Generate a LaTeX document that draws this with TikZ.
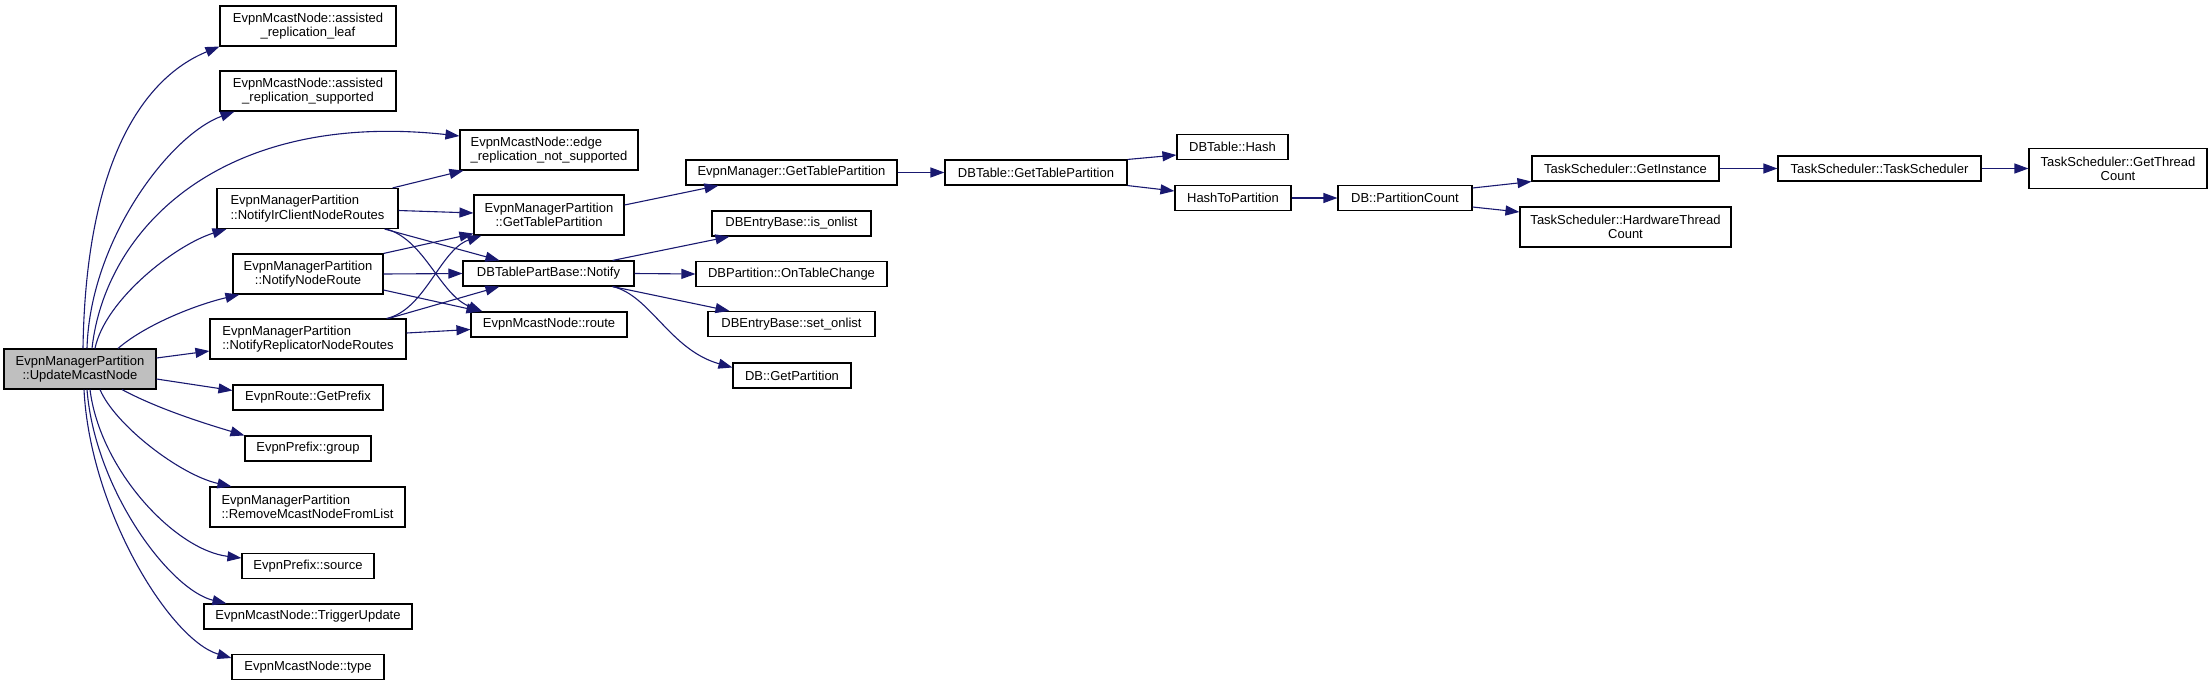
\documentclass[tikz,border=0pt]{standalone}
\usepackage{fontspec}
\setmainfont{Liberation Sans}
\usetikzlibrary{arrows.meta}
\definecolor{callblue}{HTML}{191970}
\definecolor{rootgray}{HTML}{BFBFBF}

\begin{document}
\begin{tikzpicture}[x=1pt,y=-1pt,
	every node/.style={draw=black,line width=1.1pt,inner sep=0pt,minimum height=25pt,font=\fontsize{13}{14.3}\selectfont,align=center},
	two/.style={minimum height=40pt},
	calls/.style={draw=callblue,line width=1.1pt,-{Triangle[length=14pt,width=10pt]}}
	]
	\useasboundingbox (0,0) rectangle (2212,686);
	\node[two,fill=rootgray,minimum width=152pt] (umn) at (80,369) {EvpnManagerPartition\\::UpdateMcastNode};
	\node[two,minimum width=176pt] (arl) at (308,26) {EvpnMcastNode::assisted\\\_replication\_leaf};
	\node[two,minimum width=176pt] (ars) at (308,91) {EvpnMcastNode::assisted\\\_replication\_supported};
	\node[two,align=left,minimum width=178pt] (ern) at (549,150) {EvpnMcastNode::edge\\\_replication\_not\_supported};
	\node[two,align=left,minimum width=181pt] (nic) at (307.5,208.5) {EvpnManagerPartition\\::NotifyIrClientNodeRoutes};
	\node[two,minimum width=150pt] (gtp) at (549,215) {EvpnManagerPartition\\::GetTablePartition};
	\node[two,minimum width=150pt] (nnr) at (308,274) {EvpnManagerPartition\\::NotifyNodeRoute};
	\node[minimum width=171pt] (dtn) at (548.5,273.5) {DBTablePartBase::Notify};
	\node[minimum width=156pt] (rte) at (549,324.5) {EvpnMcastNode::route};
	\node[two,align=left,minimum width=196pt] (nrr) at (308,339) {EvpnManagerPartition\\::NotifyReplicatorNodeRoutes};
	\node[minimum width=150pt] (gpf) at (308,397.5) {EvpnRoute::GetPrefix};
	\node[minimum width=126pt] (grp) at (308,448.5) {EvpnPrefix::group};
	\node[two,align=left,minimum width=195pt] (rml) at (307.5,507) {EvpnManagerPartition\\::RemoveMcastNodeFromList};
	\node[minimum width=132pt] (src) at (308,566) {EvpnPrefix::source};
	\node[minimum width=208pt] (tup) at (308,616.5) {EvpnMcastNode::TriggerUpdate};
	\node[minimum width=152pt] (typ) at (308,667) {EvpnMcastNode::type};
	\node[minimum width=211pt] (emg) at (791.5,172.5) {EvpnManager::GetTablePartition};
	\node[minimum width=182pt] (dgt) at (1036,172.5) {DBTable::GetTablePartition};
	\node[minimum width=159pt] (iso) at (791.5,223.5) {DBEntryBase::is\_onlist};
	\node[minimum width=191pt] (otc) at (791.5,274) {DBPartition::OnTableChange};
	\node[minimum width=167pt] (sol) at (791.5,324) {DBEntryBase::set\_onlist};
	\node[minimum width=118pt] (dgp) at (792,375.5) {DB::GetPartition};
	\node[minimum width=111pt] (dth) at (1232.5,147) {DBTable::Hash};
	\node[minimum width=116pt] (htp) at (1233,198) {HashToPartition};
	\node[minimum width=134pt] (dpc) at (1405,198) {DB::PartitionCount};
	\node[minimum width=187pt] (gin) at (1625.5,168.5) {TaskScheduler::GetInstance};
	\node[two,minimum width=211pt] (hwc) at (1625.5,227) {TaskScheduler::HardwareThread\\Count};
	\node[minimum width=203pt] (tsc) at (1879.5,168.5) {TaskScheduler::TaskScheduler};
	\node[two,minimum width=178pt] (gtc) at (2118,168.5) {TaskScheduler::GetThread\\Count};

	\draw[calls] ([xshift=3pt]umn.north) .. controls (86,150) and (150,75) .. (arl.south west);
	\draw[calls] ([xshift=7pt]umn.north) .. controls (90,240) and (170,135) .. ([xshift=15pt]ars.south west);
	\draw[calls] ([xshift=12pt]umn.north) .. controls (105,230) and (220,110) .. ([yshift=14pt]ern.west);
	\draw[calls] ([xshift=15pt]umn.north) .. controls (105,300) and (175,245) .. ([xshift=10pt]nic.south west);
	\draw[calls] ([xshift=38pt]umn.north) .. controls (145,325) and (195,305) .. ([xshift=7pt]nnr.south west);
	\draw[calls] ([yshift=11pt]umn.east) -- ([yshift=-12pt]nrr.west);
	\draw[calls] ([yshift=-10pt]umn.east) -- ([yshift=7pt]gpf.west);
	\draw[calls] ([xshift=42pt]umn.south) .. controls (160,410) and (210,425) .. (grp.north west);
	\draw[calls] ([xshift=20pt]umn.south) .. controls (115,425) and (180,475) .. ([xshift=22pt]rml.north west);
	\draw[calls] ([xshift=10pt]umn.south) .. controls (100,470) and (175,550) .. ([yshift=8pt]src.west);
	\draw[calls] ([xshift=7pt]umn.south) .. controls (95,490) and (170,590) .. ([xshift=23pt]tup.north west);
	\draw[calls] ([xshift=4pt]umn.south) .. controls (90,510) and (170,640) .. ([yshift=9pt]typ.west);

	\draw[calls] ([xshift=-6pt]nic.north east) -- ([xshift=4pt]ern.south west);
	\draw[calls] ([yshift=-2pt]nic.east) -- ([yshift=2pt]gtp.west);
	\draw[calls] ([xshift=-14pt]nic.south east) -- ([xshift=37pt]dtn.north west);
	\draw[calls] ([xshift=-12pt]nic.south east) .. controls (425,240) and (440,295) .. ([xshift=12pt]rte.north west);
	\draw[calls] (nnr.north east) -- ([yshift=2pt]gtp.south west);
	\draw[calls] (nnr.east) -- (dtn.west);
	\draw[calls] ([yshift=-16pt]nnr.east) -- ([xshift=10pt]rte.north west);
	\draw[calls] ([xshift=-20pt]nrr.north east) .. controls (425,310) and (440,250) .. ([xshift=8pt]gtp.south west);
	\draw[calls] ([xshift=-18pt]nrr.north east) -- ([xshift=37pt]dtn.south west);
	\draw[calls] ([yshift=6pt]nrr.east) -- ([yshift=-5pt]rte.west);

	\draw[calls] ([yshift=10pt]gtp.east) -- ([xshift=33pt]emg.south west);
	\draw[calls] (emg) -- (dgt);
	\draw[calls] (dgt.north east) -- ([yshift=-8pt]dth.west);
	\draw[calls] (dgt.south east) -- ([yshift=7pt]htp.west);
	\draw[calls] (htp) -- (dpc);
	\draw[calls] ([yshift=10pt]dpc.east) -- (gin.south west);
	\draw[calls] ([yshift=-9pt]dpc.east) -- ([yshift=15pt]hwc.west);
	\draw[calls] (gin) -- (tsc);
	\draw[calls] (tsc) -- (gtc);

	\draw[calls] ([xshift=-22pt]dtn.north east) -- ([xshift=18pt]iso.south west);
	\draw[calls] (dtn.east) -- (otc.west);
	\draw[calls] ([xshift=-22pt]dtn.south east) -- ([xshift=22pt]sol.north west);
	\draw[calls] ([xshift=-22pt]dtn.south east) .. controls (650,295) and (670,350) .. ([yshift=8pt]dgp.west);
\end{tikzpicture}
\end{document}
